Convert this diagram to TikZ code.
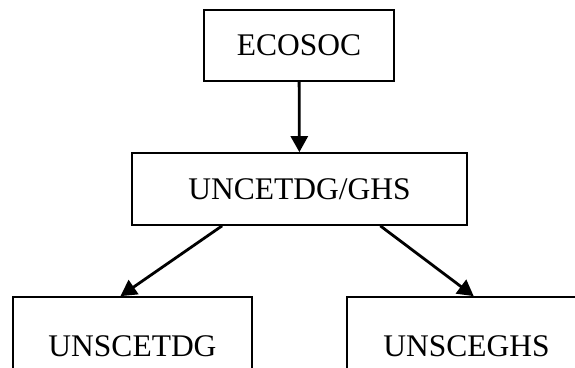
\documentclass[tikz,border=0pt]{standalone}
\usepackage{fontspec}
\setmainfont{Liberation Serif}
\usepackage{tikz}
\usetikzlibrary{shapes,arrows.meta,calc}
\tikzset{
	unit/.style     = {draw, line width = 1.7pt, rectangle, inner sep = 0pt,
		font = \fontsize{31.5}{36}\selectfont},
	link/.style     = {line width = 2.8pt, -{Triangle[length=16pt,width=17pt]}}
}

\begin{document}
\begin{tikzpicture}[x=1pt, y=1pt]
	\path[use as bounding box, clip] (0,0) rectangle (575,367);
	\draw
	node at (299,321.5)[unit, minimum width = 190pt, minimum height = 71pt] (eco) {ECOSOC}
	node at (299.5,178)[unit, minimum width = 335pt, minimum height = 72pt] (cetdg) {UNCETDG/GHS}
	node at (132.5,21)[unit, minimum width = 239pt, minimum height = 98pt] (tdg) {UNSCETDG}
	node at (466.5,21)[unit, minimum width = 239pt, minimum height = 98pt] (ghs) {UNSCEGHS};
	
	\draw[link] (eco) -- (cetdg);
	\draw[link] ($(cetdg.south west)!0.27!(cetdg.south east)$) -- ($(tdg.north west)!0.45!(tdg.north east)$);
	\draw[link] ($(cetdg.south west)!0.74!(cetdg.south east)$) -- ($(ghs.north west)!0.53!(ghs.north east)$);
\end{tikzpicture}
\end{document}
